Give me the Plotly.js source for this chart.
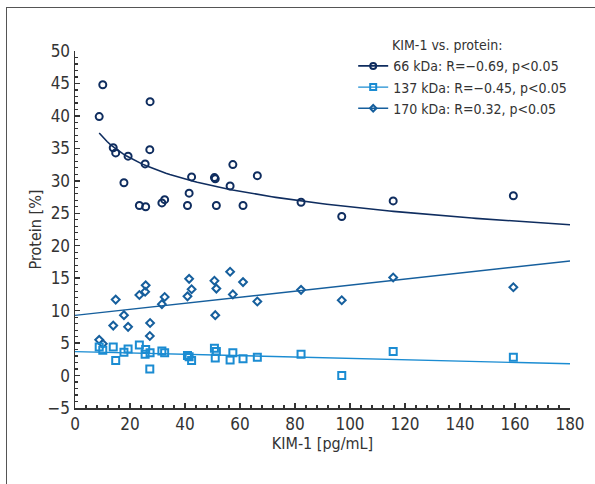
<!DOCTYPE html>
<html>
<head>
<meta charset="utf-8">
<script src="https://cdn.plot.ly/plotly-3.0.1.min.js"></script>
<style>
  html, body { margin: 0; padding: 0; background: #fff; }
  #wrap { position: relative; width: 595px; height: 484px; overflow: hidden; }
  #chart { position: absolute; left: 0; top: 0; width: 595px; height: 484px; }
  #frame { position: absolute; left: 6px; top: 7px; width: 600px; height: 490px;
           border-left: 1px solid #555; border-top: 1px solid #555; pointer-events: none; }
</style>
</head>
<body>
<div id="wrap"><div id="chart"></div><div id="frame"></div></div>
<script>
// KIM-1 [pg/mL] for each sample
const kim1 = [8.8, 10.1, 13.9, 14.8, 17.8, 19.3, 23.4, 25.5, 25.7, 27.2, 27.3, 31.6, 32.6,
              40.9, 41.5, 42.4, 50.7, 51.0, 51.4, 56.4, 57.4, 61.1, 66.3, 82.2, 97.0, 115.7, 159.4];
// Protein [%] per isoform
const p66  = [39.9, 44.8, 35.1, 34.3, 29.7, 33.8, 26.2, 32.6, 26.0, 34.8, 42.2, 26.6, 27.1,
              26.2, 28.1, 30.6, 30.5, 30.3, 26.2, 29.2, 32.5, 26.2, 30.8, 26.7, 24.5, 26.9, 27.7];
const p137 = [4.4, 3.9, 4.4, 2.3, 3.6, 4.1, 4.7, 3.3, 4.0, 1.0, 3.5, 3.8, 3.5,
              3.1, 2.9, 2.3, 4.2, 2.7, 3.7, 2.4, 3.5, 2.6, 2.8, 3.3, 0.0, 3.7, 2.8];
const p170 = [5.5, 4.9, 7.7, 11.7, 9.3, 7.5, 12.4, 12.9, 13.9, 6.1, 8.1, 11.0, 12.1,
              12.2, 14.9, 13.3, 14.6, 9.3, 13.4, 16.0, 12.5, 14.4, 11.4, 13.2, 11.6, 15.1, 13.6];

const legendLabels = [
  "66 kDa: R=\u22120.69, p<0.05",
  "137 kDa: R=\u22120.45, p<0.05",
  "170 kDa: R=0.32, p<0.05"
];
const legendTitle = "KIM-1 vs. protein:";
const xTitle = "KIM-1 [pg/mL]";
const yTitle = "Protein [%]";

const C66 = "#0f2d5f", C137 = "#1b8cd2", C170 = "#165f9d";
const FONT = "'Liberation Sans Narrow', 'DejaVu Sans Condensed', 'Roboto Condensed', sans-serif";

// least squares fit of y on f(x)
function fit(xs, ys, f) {
  const n = xs.length;
  let sx = 0, sy = 0, sxx = 0, sxy = 0;
  for (let i = 0; i < n; i++) {
    const u = f(xs[i]);
    sx += u; sy += ys[i]; sxx += u * u; sxy += u * ys[i];
  }
  const b = (n * sxy - sx * sy) / (n * sxx - sx * sx);
  const a = (sy - b * sx) / n;
  return v => a + b * f(v);
}
function curve(model, x0, x1, n) {
  const xs = [], ys = [];
  for (let i = 0; i <= n; i++) { const v = x0 + (x1 - x0) * i / n; xs.push(v); ys.push(model(v)); }
  return {x: xs, y: ys};
}
const m66 = fit(kim1, p66, Math.log);
const m137 = fit(kim1, p137, v => v);
const m170 = fit(kim1, p170, v => v);
const c66 = curve(m66, Math.min(...kim1), 180, 120);
const c137 = curve(m137, 0, 180, 2);
const c170 = curve(m170, 0, 180, 2);

const mk = (sym, col, size) => ({symbol: sym, size: size, color: col, line: {color: col, width: 2}});

const traces = [
  {x: c66.x, y: c66.y, mode: "lines", line: {color: C66, width: 1.6}, showlegend: false, hoverinfo: "skip"},
  {x: c170.x, y: c170.y, mode: "lines", line: {color: C170, width: 1.4}, showlegend: false, hoverinfo: "skip"},
  {x: c137.x, y: c137.y, mode: "lines", line: {color: C137, width: 1.4}, showlegend: false, hoverinfo: "skip"},
  {x: kim1, y: p66, mode: "markers", marker: mk("circle-open", C66, 7), showlegend: false},
  {x: kim1, y: p170, mode: "markers", marker: mk("diamond-open", C170, 6), showlegend: false},
  {x: kim1, y: p137, mode: "markers", marker: mk("square-open", C137, 7), showlegend: false},
  // legend entries
  {x: [null], y: [null], mode: "lines+markers", name: legendLabels[0],
   line: {color: C66, width: 1.6}, marker: mk("circle-open", C66, 6)},
  {x: [null], y: [null], mode: "lines+markers", name: legendLabels[1],
   line: {color: C137, width: 1.4}, marker: mk("square-open", C137, 6)},
  {x: [null], y: [null], mode: "lines+markers", name: legendLabels[2],
   line: {color: C170, width: 1.4}, marker: mk("diamond-open", C170, 5)}
];

const axisCommon = {
  showgrid: false, zeroline: false, showline: true, linecolor: "#333", linewidth: 1.5,
  ticks: "inside", ticklen: 5, tickwidth: 1.5, tickcolor: "#333",
  tickfont: {family: FONT, size: 17, color: "#333"},
  mirror: false
};

const layout = {
  width: 595, height: 484,
  margin: {l: 75, r: 25, t: 51, b: 76, autoexpand: false},
  paper_bgcolor: "#fff", plot_bgcolor: "#fff",
  font: {family: FONT, color: "#333"},
  xaxis: Object.assign({}, axisCommon, {
    range: [0, 180], dtick: 20, tick0: 0, automargin: false,
    minor: {dtick: 4, ticks: "inside", ticklen: 3, tickwidth: 1.2, tickcolor: "#333"},
    title: {text: xTitle, font: {family: FONT, size: 16, color: "#333"}, standoff: 2}
  }),
  yaxis: Object.assign({}, axisCommon, {
    range: [-5, 50], dtick: 5, tick0: 0, automargin: false,
    minor: {dtick: 1, ticks: "inside", ticklen: 3, tickwidth: 1.2, tickcolor: "#333"},
    title: {text: yTitle, font: {family: FONT, size: 16, color: "#333"}, standoff: 2}
  }),
  showlegend: true,
  legend: {
    x: 0.562, y: 1.002, xanchor: "left", yanchor: "top",
    bgcolor: "rgba(0,0,0,0)", borderwidth: 0,
    font: {family: FONT, size: 14, color: "#333"},
    itemwidth: 30, tracegroupgap: 0
  },
  annotations: [{
    text: legendTitle, xref: "paper", yref: "paper", x: 0.636, y: 1.017,
    xanchor: "left", yanchor: "middle", showarrow: false,
    font: {family: FONT, size: 14, color: "#333"}
  }]
};

Plotly.newPlot("chart", traces, layout, {staticPlot: true, displayModeBar: false});
</script>
</body>
</html>
